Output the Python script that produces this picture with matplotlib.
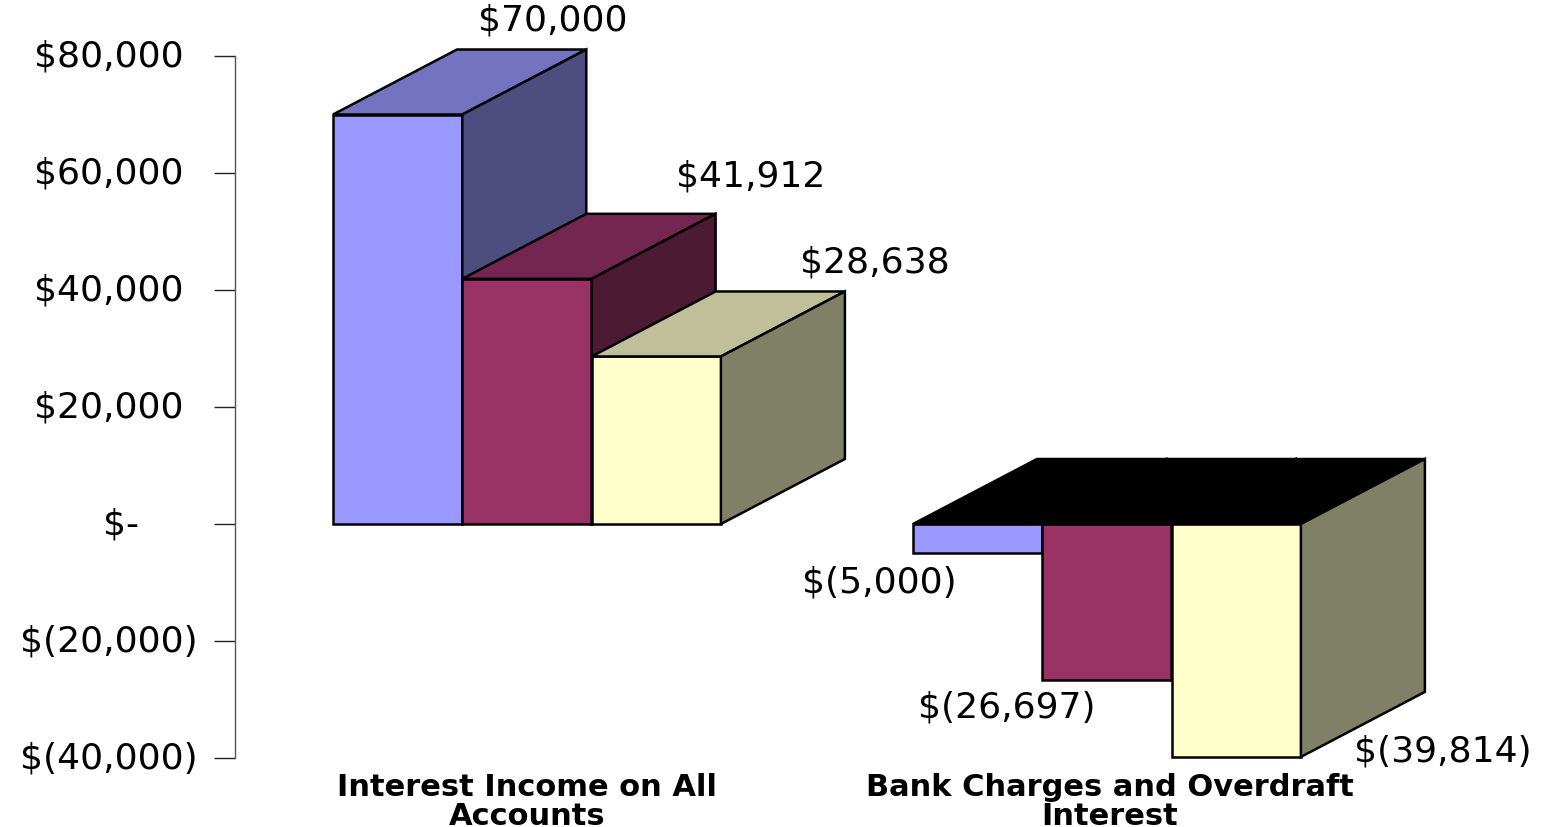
import matplotlib
matplotlib.use('Agg')
import matplotlib.pyplot as plt
from matplotlib.patches import Polygon
from matplotlib.transforms import ScaledTranslation

categories = ['Interest Income on All\nAccounts', 'Bank Charges and Overdraft\nInterest']
series1 = [70000, -5000]
series2 = [41912, -26697]
series3 = [28638, -39814]
value_labels = [['$70,000', '$(5,000)'], ['$41,912', '$(26,697)'], ['$28,638', '$(39,814)']]
ytick_vals = [-40000, -20000, 0, 20000, 40000, 60000, 80000]
ytick_labels = ['$(40,000)', '$(20,000)', '$-', '$20,000', '$40,000', '$60,000', '$80,000']

front = ['#9999FF', '#993366', '#FFFFCC']
side = ['#4D4D80', '#4D1A33', '#808066']
top = ['#7373BF', '#732650', '#BFBF99']

W, H = 1551, 828
fig = plt.figure(figsize=(W / 100, H / 100), dpi=100)
ax = fig.add_axes([235 / W, 1 - 759 / H, (W - 235) / W, 702 / H])
ax.set_xlim(235, W)
ax.set_ylim(-40000, 80000)

group_left = [333, 913]
bar_w = 129.3
dx = 124
dy = 65 * 120000 / 702


def draw_bar(x0, val, i):
    x1 = x0 + bar_w
    z = 10 + i
    kw = dict(edgecolor='black', linewidth=1.8, joinstyle='miter', clip_on=False, zorder=z)
    ax.add_patch(Polygon([(x0, 0), (x1, 0), (x1, val), (x0, val)], facecolor=front[i], **kw))
    t = max(val, 0)
    # top face is black when the bar hangs below zero
    ax.add_patch(Polygon([(x0, t), (x1, t), (x1 + dx, t + dy), (x0 + dx, t + dy)],
                         facecolor=top[i] if val > 0 else 'black', **kw))
    ax.add_patch(Polygon([(x1, 0), (x1 + dx, dy), (x1 + dx, val + dy), (x1, val)],
                         facecolor=side[i], **kw))


for g, left in enumerate(group_left):
    for i, vals in enumerate([series1, series2, series3]):
        draw_bar(left + i * bar_w, vals[g], i)

for s in ['top', 'right', 'bottom']:
    ax.spines[s].set_visible(False)
ax.spines['left'].set_linewidth(1.0)
ax.spines['left'].set_color('#555555')
ax.set_xticks([])
ax.set_yticks(ytick_vals)
ax.set_yticklabels(ytick_labels, fontsize=26, family='DejaVu Sans', ha='center')
ax.tick_params(axis='y', length=15, width=1.0, color='#222222', pad=76)
shift_up = ScaledTranslation(0, 0.04, fig.dpi_scale_trans)
for lab in ax.get_yticklabels():
    lab.set_transform(lab.get_transform() + shift_up)
    if lab.get_text() == '$-':
        lab.set_transform(lab.get_transform() + ScaledTranslation(0.12, 0, fig.dpi_scale_trans))

label_pos = [[(553, 21), (879, 582)], [(751, 177), (1007, 708)], [(875, 263), (1443, 752)]]
for i, row in enumerate(value_labels):
    for g, txt in enumerate(row):
        px, py = label_pos[i][g]
        fig.text(px / W, 1 - py / H, txt, ha='center', va='center', fontsize=26, family='DejaVu Sans')

for name, px in zip(categories, [527, 1110]):
    fig.text(px / W, 1 - 802 / H, name, ha='center', va='center', fontsize=22, fontweight='bold',
             family='DejaVu Sans', linespacing=1.0)

fig.savefig('out.png', dpi=100)
